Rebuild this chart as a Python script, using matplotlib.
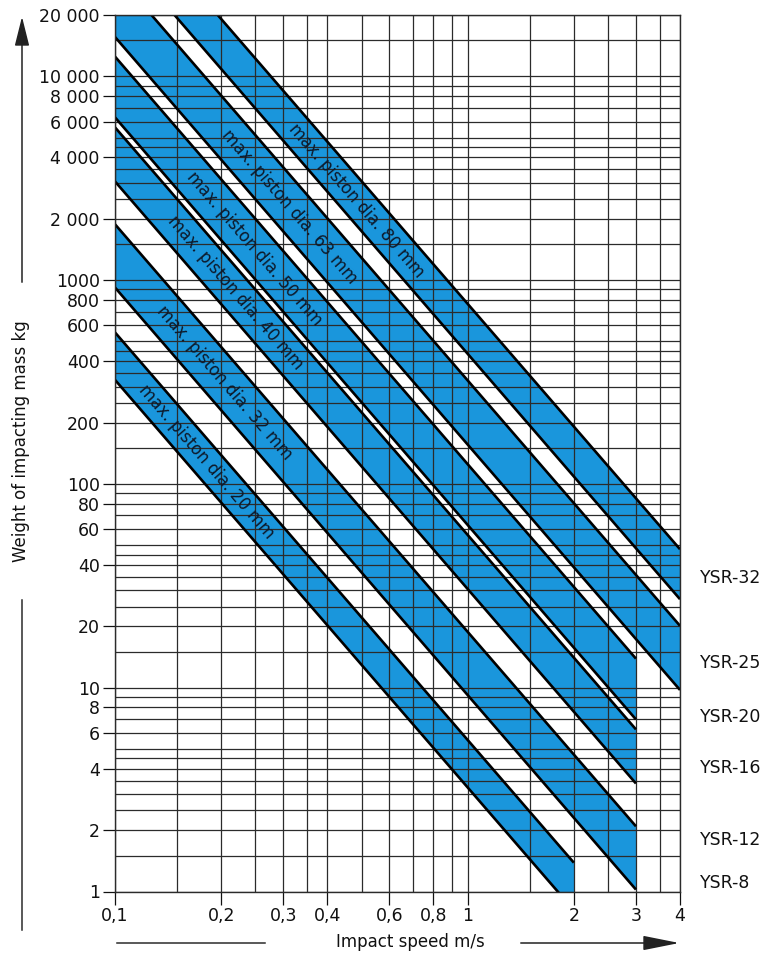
import numpy as np
import matplotlib
matplotlib.use('Agg')
import matplotlib.pyplot as plt
from matplotlib.patches import FancyArrowPatch
from matplotlib.lines import Line2D
from matplotlib.transforms import blended_transform_factory

# ---------------- data ----------------
piston_dia = ['20', '32', '40', '50', '63', '80']
# mass (kg) on each band edge, expressed at an impact speed of 1 m/s
upper_mass_at_1ms = [5.54, 18.8, 56.2, 125, 322, 765]
lower_mass_at_1ms = [3.24, 9.2, 30.5, 62.9, 156, 435]
max_speed = [2, 3, 3, 3, 4, 4]            # m/s, right end of each band
label_speed = [0.182, 0.205, 0.219, 0.249, 0.313, 0.485]

models = ['YSR-8', 'YSR-12', 'YSR-16', 'YSR-20', 'YSR-25', 'YSR-32']
model_label_mass = [1.10, 1.79, 4.04, 7.18, 13.2, 34.5]

x_ticks = [0.1, 0.2, 0.3, 0.4, 0.6, 0.8, 1, 2, 3, 4]
x_ticklabels = ['0,1', '0,2', '0,3', '0,4', '0,6', '0,8', '1', '2', '3', '4']
x_grid = [0.1, 0.15, 0.2, 0.25, 0.3, 0.35, 0.4, 0.5, 0.6, 0.7, 0.8, 0.9,
          1, 1.5, 2, 2.5, 3, 3.5, 4]
y_ticks = [1, 2, 4, 6, 8, 10, 20, 40, 60, 80, 100, 200, 400, 600, 800,
           1000, 2000, 4000, 6000, 8000, 10000, 20000]
y_ticklabels = ['1', '2', '4', '6', '8', '10', '20', '40', '60', '80', '100',
                '200', '400', '600', '800', '1000', '2 000', '4 000', '6 000',
                '8 000', '10 000', '20 000']
y_grid_steps = [1, 1.5, 2, 2.5, 3, 3.5, 4, 4.5, 5, 6, 7, 8, 9]

# ---------------- style ----------------
BLUE = '#1a96dc'
GRID = '#2b2b2b'
TXT = '#111111'
plt.rcParams['font.family'] = ['DejaVu Sans']

W, H = 781, 956
fig = plt.figure(figsize=(W / 100, H / 100), dpi=100)
ax = fig.add_axes([115 / W, 1 - 891.5 / H, (680 - 115) / W, (891.5 - 15) / H])
ax.set_xscale('log')
ax.set_yscale('log')
ax.set_xlim(0.1, 4)
ax.set_ylim(1, 20000)

# grid
y_grid = [s * 10 ** d for d in range(5) for s in y_grid_steps if s * 10 ** d <= 20000]
ax.vlines(x_grid, 1, 20000, colors=GRID, lw=0.9, zorder=2)
ax.hlines(y_grid, 0.1, 4, colors=GRID, lw=0.9, zorder=2)

# bands
for d, U, L, vmax in zip(piston_dia, upper_mass_at_1ms, lower_mass_at_1ms, max_speed):
    v = np.array([0.05, vmax])
    up = U / v ** 2
    lo = L / v ** 2
    ax.fill_between(v, lo, up, color=BLUE, lw=0, zorder=1)
    ax.plot(v, up, color='black', lw=1.9, zorder=3, solid_capstyle='butt')
    ax.plot(v, lo, color='black', lw=1.9, zorder=3, solid_capstyle='butt')

fig.canvas.draw()
for d, U, L, vl in zip(piston_dia, upper_mass_at_1ms, lower_mass_at_1ms, label_speed):
    c = np.sqrt(U * L)
    p1 = ax.transData.transform((vl, c / vl ** 2))
    p2 = ax.transData.transform((vl * 1.5, c / (vl * 1.5) ** 2))
    ang = np.degrees(np.arctan2(p2[1] - p1[1], p2[0] - p1[0]))
    ax.text(vl, c / vl ** 2, f'max. piston dia. {d} mm', rotation=ang,
            rotation_mode='anchor', ha='center', va='center', fontsize=12,
            color='#0d1a2b', zorder=4)

# ticks
ax.set_xticks(x_ticks)
ax.set_xticklabels(x_ticklabels)
ax.set_yticks(y_ticks)
ax.set_yticklabels(y_ticklabels)
ax.xaxis.set_minor_locator(matplotlib.ticker.NullLocator())
ax.yaxis.set_minor_locator(matplotlib.ticker.NullLocator())
ax.tick_params(direction='out', length=9, width=0.9, labelsize=12.5, pad=2,
               colors=TXT)
for s in ax.spines.values():
    s.set_linewidth(1.0)
    s.set_color(GRID)
    s.set_zorder(5)

# model labels at right
tr = blended_transform_factory(ax.transAxes, ax.transData)
for name, m in zip(models, model_label_mass):
    ax.text(1.035, m, name, transform=tr, ha='left', va='center',
            fontsize=12.5, color=TXT, clip_on=False)

# axis titles and arrows (figure pixel coords)
def fp(x, y):
    return (x / W, 1 - y / H)

fig.text(*fp(21, 441), 'Weight of impacting mass kg', rotation=90,
         ha='center', va='center', fontsize=12, color=TXT)
fig.text(*fp(410, 942), 'Impact speed m/s', ha='center', va='center',
         fontsize=12, color=TXT)

fig.add_artist(Line2D(*zip(fp(22, 600), fp(22, 930)), transform=fig.transFigure,
                      color=GRID, lw=1.1))
fig.add_artist(FancyArrowPatch(fp(22, 285), fp(22, 14), transform=fig.transFigure,
                               arrowstyle='-|>,head_length=1.2,head_width=0.3',
                               mutation_scale=15, color='#222222', lw=1.1))
fig.add_artist(Line2D(*zip(fp(117, 943), fp(265, 943)), transform=fig.transFigure,
                      color=GRID, lw=1.1))
fig.add_artist(FancyArrowPatch(fp(518, 943), fp(682, 943), transform=fig.transFigure,
                               arrowstyle='-|>,head_length=1.5,head_width=0.3',
                               mutation_scale=15, color='#222222', lw=1.1))

fig.savefig('out.png', dpi=100)
